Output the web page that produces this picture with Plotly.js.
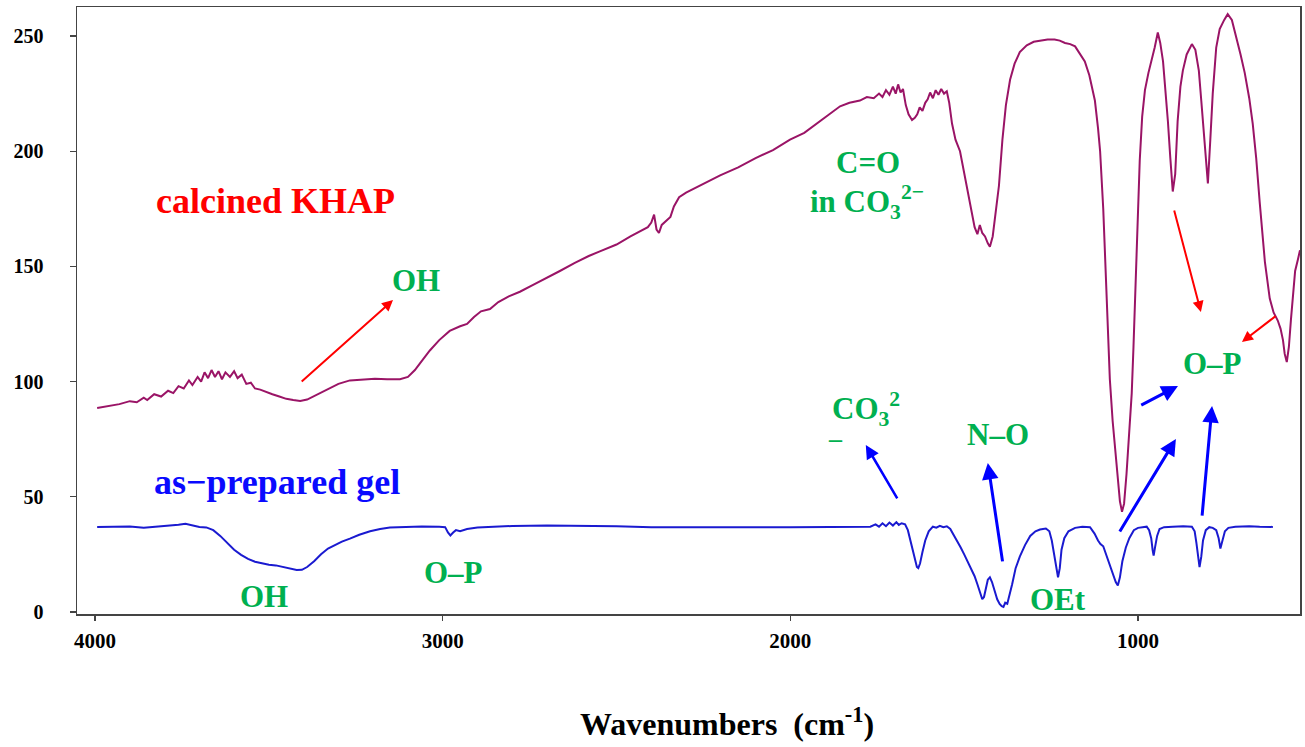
<!DOCTYPE html>
<html>
<head>
<meta charset="utf-8">
<script src="https://cdn.plot.ly/plotly-3.0.1.min.js"></script>
<style>html,body{margin:0;padding:0;background:#fff;}#chart{width:1305px;height:747px;}</style>
</head>
<body>
<div id="chart"></div>
<script>
// ---- data ----
const khapWavenumber = [3994,3960,3930,3900,3880,3860,3850,3830,3810,3790,3775,3760,3745,3730,3720,3705,3695,3685,3675,3665,3655,3645,3635,3625,3612,3600,3590,3578,3565,3552,3540,3525,3510,3490,3470,3450,3430,3410,3390,3360,3330,3300,3267,3230,3195,3160,3123,3100,3080,3060,3037,3010,2980,2950,2930,2910,2890,2864,2840,2810,2778,2740,2700,2663,2620,2580,2548,2500,2460,2433,2410,2400,2392,2385,2378,2370,2355,2345,2335,2320,2300,2250,2202,2150,2100,2050,2001,1960,1915,1880,1857,1830,1800,1780,1760,1745,1735,1725,1715,1705,1697,1690,1683,1676,1668,1660,1650,1642,1635,1628,1620,1612,1605,1598,1590,1582,1574,1566,1558,1550,1543,1535,1525,1512,1500,1490,1480,1470,1462,1455,1448,1440,1432,1426,1418,1410,1400,1390,1380,1368,1355,1340,1320,1300,1282,1260,1240,1225,1210,1195,1181,1165,1153,1140,1124,1115,1109,1100,1095,1088,1081,1073,1066,1058,1052,1046,1040,1033,1025,1018,1013,1009,1003,995,988,980,970,960,952,943,936,928,920,914,907,900,893,886,878,871,860,845,835,825,818,813,806,799,792,785,775,765,752,742,730,718,705,693,680,670,660,650,644,635,621,610,598,590,583,578,572,566,560,555,548,540,534];
const khapValue = [88.5,89.5,90.2,91.5,91,93,92,94.5,93.5,96,95,98,97,100.5,98.5,102,100,104,101.5,105,102,104.5,101,104,102,104.5,101.5,103,99,99.5,97,96.5,95.5,94.5,93.5,92.5,92,91.6,92.2,94.5,97,99,100.5,101,101.2,101,101,102,105,109,113.5,118,122,124,125,128,130.5,131.5,134.5,137,139,142,145,148,151.5,154.5,156.5,159.5,163,165,167,169,172.5,166,164.5,168,170,171.5,176,180,182,186,189.5,193,197,200.5,205,208,213,217,219.5,221,222,223.5,223,225,223.5,226.5,224.5,228,225,229,225.5,227,220,216,213.5,214.5,216,219,217.5,221,222.5,225.5,223,226.5,224.5,227,225,226,221,212,205,200,191,183,175,167,164,168,164.5,163,160,158.5,163,172,185,205,220,231,238,243,246,247.5,248,248.5,248.5,248,247,246.5,245.5,242,239,233,222,210,200,175,157,128,101,83,70,58,48,43.5,47,60,78,95,115,135,165,196,215,226.5,234,239.5,245,251.5,247,239,226,213,197,182.5,190,213,228,235,242,246.5,244,235,222,212,198,186,205,225,245,253,257,259.5,257,250,242,234,223,212,197,178,166,152,136,130,126.5,123,118,112,108.5,115,127,137,148,153,157];

const gelWavenumber = [3994,3950,3900,3860,3800,3760,3740,3720,3700,3680,3660,3640,3620,3600,3580,3560,3540,3520,3500,3480,3460,3440,3420,3405,3390,3370,3350,3330,3310,3290,3267,3240,3209,3180,3152,3100,3060,3010,2993,2985,2978,2970,2962,2950,2930,2900,2850,2800,2700,2600,2500,2400,2300,2200,2100,2000,1900,1800,1770,1755,1745,1735,1725,1715,1705,1695,1688,1680,1670,1662,1655,1648,1642,1636,1632,1627,1620,1612,1602,1590,1580,1570,1560,1550,1540,1530,1520,1510,1500,1490,1480,1470,1462,1455,1448,1443,1438,1432,1426,1420,1412,1405,1398,1392,1387,1382,1376,1370,1362,1352,1340,1325,1310,1295,1282,1265,1255,1248,1240,1235,1230,1225,1220,1212,1200,1181,1160,1138,1125,1115,1108,1100,1092,1080,1070,1064,1058,1052,1045,1035,1025,1012,1000,985,975,968,962,958,955,951,945,938,925,900,870,845,837,832,828,823,818,813,805,795,785,775,768,763,757,750,740,720,700,680,650,630,612];
const gelValue = [36.9,37,37.1,36.5,37.2,37.8,38.3,37.5,36.9,36.7,35.5,33,30,27,24.8,23,21.8,21,20.5,20.2,19.5,18.8,18.2,18.3,19.5,22,25,27.5,29,30.5,31.8,33.5,35,36,36.6,37,37.1,37,36.8,34.5,33.2,34.5,35.5,35,36,36.6,37,37.3,37.5,37.4,37.2,36.8,36.9,36.9,36.8,36.8,37,37.2,37,38,37,38.5,37.2,38.8,37.5,39,37.8,38.5,38,35.5,31,26,22,19.5,19,21,26,31,35,37,36.6,37.4,36.8,37.2,36,33.5,31,28,25,22,18.5,15.5,12,9,5.5,6.5,10,14,15,13,9,5.5,3.5,2.5,2.2,4,3.5,7,12,19,24,29,33,35,35.8,36.2,35,31,24,18,15,19,27,32,35,36.5,37,36.8,34,31,29.5,28.5,25,20,16,13,11.5,15,22,28,32,35.5,36.5,36.8,37,35.5,32,27,24.5,28,33,36,36.8,37,37.2,37,35,30,24,19.5,24,31,35.5,36.8,36.5,35.5,32,27.5,31,35,36.5,37,37.1,37.2,37,36.8,36.9];

const seriesNames = ['calcined KHAP', 'as\u2212prepared gel'];
const xTickValues = [4000, 3000, 2000, 1000];
const yTickValues = [0, 50, 100, 150, 200, 250];
const xAxisTitle = 'Wavenumbers\u00a0\u00a0(cm<sup>-1</sup>)';

// ---- styles ----
const SERIF = '"Liberation Serif", "Times New Roman", "DejaVu Serif", "Noto Serif", Times, serif';
const GREEN = '#00b050';

const traces = [
  {x: khapWavenumber, y: khapValue, name: seriesNames[0], type: 'scatter', mode: 'lines',
   line: {color: '#9a1466', width: 2}},
  {x: gelWavenumber, y: gelValue, name: seriesNames[1], type: 'scatter', mode: 'lines',
   line: {color: '#1a1ad0', width: 2}}
];

function label(text, x, y, color, size, extra) {
  return Object.assign({text: '<b>' + text + '</b>', x: x, y: y, xref: 'x', yref: 'y', showarrow: false,
    xanchor: 'center', yanchor: 'middle',
    font: {family: SERIF, size: size, color: color}}, extra || {});
}
function arrow(tailX, tailY, tipX, tipY, color, width) {
  return {text: '', x: tipX, y: tipY, ax: tailX, ay: tailY, xref: 'x', yref: 'y', axref: 'x', ayref: 'y',
    showarrow: true, arrowhead: 2, arrowsize: 1.1, arrowwidth: width, arrowcolor: color,
    standoff: 0, startstandoff: 0};
}

const annotations = [
  label(seriesNames[0], 3482, 178.6, '#ff0000', 36),
  label(seriesNames[1], 3478, 56.2, '#0a0aff', 36),
  label('OH', 3077, 144, GREEN, 31),
  label('C=O', 1776, 194.9, GREEN, 31),
  label('in CO<sub>3</sub><sup>2\u2212</sup>', 1949, 178, GREEN, 31, {xanchor: 'left'}),
  label('CO<sub>3</sub><sup>2</sup>', 1886, 88, GREEN, 31, {xanchor: 'left'}),
  label('\u2013', 1869, 75.5, GREEN, 26),
  label('N\u2013O', 1403, 77, GREEN, 31),
  label('O\u2013P', 787, 107.8, GREEN, 31),
  label('OH', 3514, 6.9, GREEN, 31),
  label('O\u2013P', 2970, 17.1, GREEN, 31),
  label('OEt', 1230, 5.2, GREEN, 31),
  // x-axis title (placed as in the reference, right of the plot centre)
  {text: '<b>' + xAxisTitle + '</b>', xref: 'paper', yref: 'paper', x: 0.5315, y: -0.178,
   xanchor: 'center', yanchor: 'middle', showarrow: false,
   font: {family: SERIF, size: 32, color: '#000'}},
  arrow(3410, 99.4, 3143, 135.4, '#ff0000', 2),
  arrow(897, 174.9, 819, 130.2, '#ff0000', 2),
  arrow(600, 128.9, 701, 117.2, '#ff0000', 2),
  arrow(1690, 48.6, 1783, 72.5, '#0000ff', 2.5),
  arrow(1389, 21.3, 1432, 64.7, '#0000ff', 3),
  arrow(995, 89.4, 885, 98.1, '#0000ff', 3),
  arrow(1055, 34.3, 891, 75.1, '#0000ff', 3),
  arrow(816, 41.2, 787, 89.4, '#0000ff', 3)
];

const axisCommon = {
  showgrid: false, zeroline: false, showline: true, mirror: true,
  linecolor: '#444', linewidth: 1.5, ticks: 'outside', tickcolor: '#444', tickwidth: 1.2
};

const layout = {
  width: 1305, height: 747,
  margin: {l: 77, r: 5, t: 7, b: 133},
  paper_bgcolor: '#fff', plot_bgcolor: '#fff',
  showlegend: false,
  font: {family: SERIF},
  xaxis: Object.assign({}, axisCommon, {
    range: [4052, 534], tickvals: xTickValues, ticklen: 5,
    ticktext: xTickValues.map(v => '<b>' + v + '</b>'),
    tickmode: 'array',
    tickfont: {family: SERIF, size: 21, color: '#000'},
    ticklabelstandoff: 2
  }),
  yaxis: Object.assign({}, axisCommon, {
    range: [-0.9, 262.6], tickvals: yTickValues, ticklen: 6,
    ticktext: yTickValues.map(v => '<b>' + v + '</b>'),
    tickmode: 'array',
    tickfont: {family: SERIF, size: 20, color: '#000'},
    ticklabelstandoff: 22
  }),
  annotations: annotations
};

Plotly.newPlot('chart', traces, layout, {displayModeBar: false, staticPlot: true});
</script>
</body>
</html>
